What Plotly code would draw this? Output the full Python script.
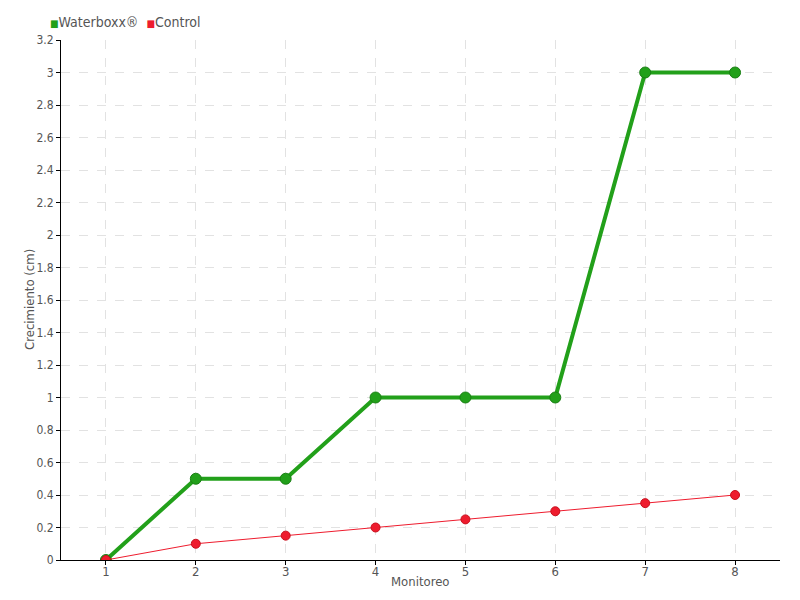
import plotly.graph_objects as go

monitoreo = [1, 2, 3, 4, 5, 6, 7, 8]
waterboxx = [0, 0.5, 0.5, 1, 1, 1, 3, 3]
control = [0, 0.1, 0.15, 0.2, 0.25, 0.3, 0.35, 0.4]
y_ticks = [round(i * 0.2, 1) for i in range(17)]
y_ticktext = ["0" if v == 0 else f"{v:g}" for v in y_ticks]

GREEN = "#22a01a"
RED = "#ee1c2e"
FONT = "DejaVu Sans Condensed, sans-serif"

# plot area in page pixels: x 61..780, y 40..560
PLOT_W, PLOT_H = 719, 520

fig = go.Figure()
fig.add_trace(
    go.Scatter(
        x=monitoreo,
        y=waterboxx,
        mode="lines+markers",
        line=dict(color=GREEN, width=4),
        marker=dict(size=11, color=GREEN, line=dict(color="#1a7f14", width=1)),
        showlegend=False,
    )
)
fig.add_trace(
    go.Scatter(
        x=monitoreo,
        y=control,
        mode="lines+markers",
        line=dict(color=RED, width=1),
        marker=dict(size=9, color=RED, line=dict(color="#c8101e", width=1)),
        showlegend=False,
    )
)

axis_common = dict(
    showline=True,
    linecolor="black",
    linewidth=1,
    ticks="outside",
    ticklen=4,
    tickcolor="black",
    showgrid=True,
    gridcolor="#e2e2e2",
    griddash="dash",
    gridwidth=1,
    zeroline=False,
    automargin=False,
    tickfont=dict(size=13, color="#555555"),
)

fig.update_layout(
    width=800,
    height=600,
    plot_bgcolor="white",
    paper_bgcolor="white",
    showlegend=False,
    font=dict(family=FONT, color="#555555", size=13),
    # the page body adds 8px, so margins are shifted to compensate
    margin=dict(l=53, r=28, t=32, b=48, autoexpand=False),
    xaxis=axis_common | dict(range=[0.5, 8.5], tickvals=monitoreo, ticklabelstandoff=-5),
    yaxis=axis_common
    | dict(
        range=[0, 3.2],
        tickvals=y_ticks,
        ticktext=y_ticktext,
        tickfont=dict(size=12, color="#555555"),
    ),
)

# axis titles
fig.add_annotation(
    x=0.5,
    y=-21 / PLOT_H,
    xref="paper",
    yref="paper",
    text="Monitoreo",
    showarrow=False,
    xanchor="center",
    yanchor="middle",
    font=dict(size=13, color="#555555"),
)
fig.add_annotation(
    x=(29 - 61) / PLOT_W,
    y=0.5,
    xref="paper",
    yref="paper",
    text="Crecimiento (cm)",
    textangle=-90,
    showarrow=False,
    xanchor="center",
    yanchor="middle",
    font=dict(size=13, color="#555555"),
)

# legend drawn as text with square swatches
fig.add_annotation(
    x=(48 - 61) / PLOT_W,
    y=1 + 18 / PLOT_H,
    xref="paper",
    yref="paper",
    text=(
        f"<span style='color:{GREEN};font-size:10px'>■</span>Waterboxx®"
        f"  <span style='color:{RED};font-size:10px'>■</span>Control"
    ),
    showarrow=False,
    xanchor="left",
    yanchor="middle",
    font=dict(size=14, color="#555555"),
)

fig.write_html("out.html")
